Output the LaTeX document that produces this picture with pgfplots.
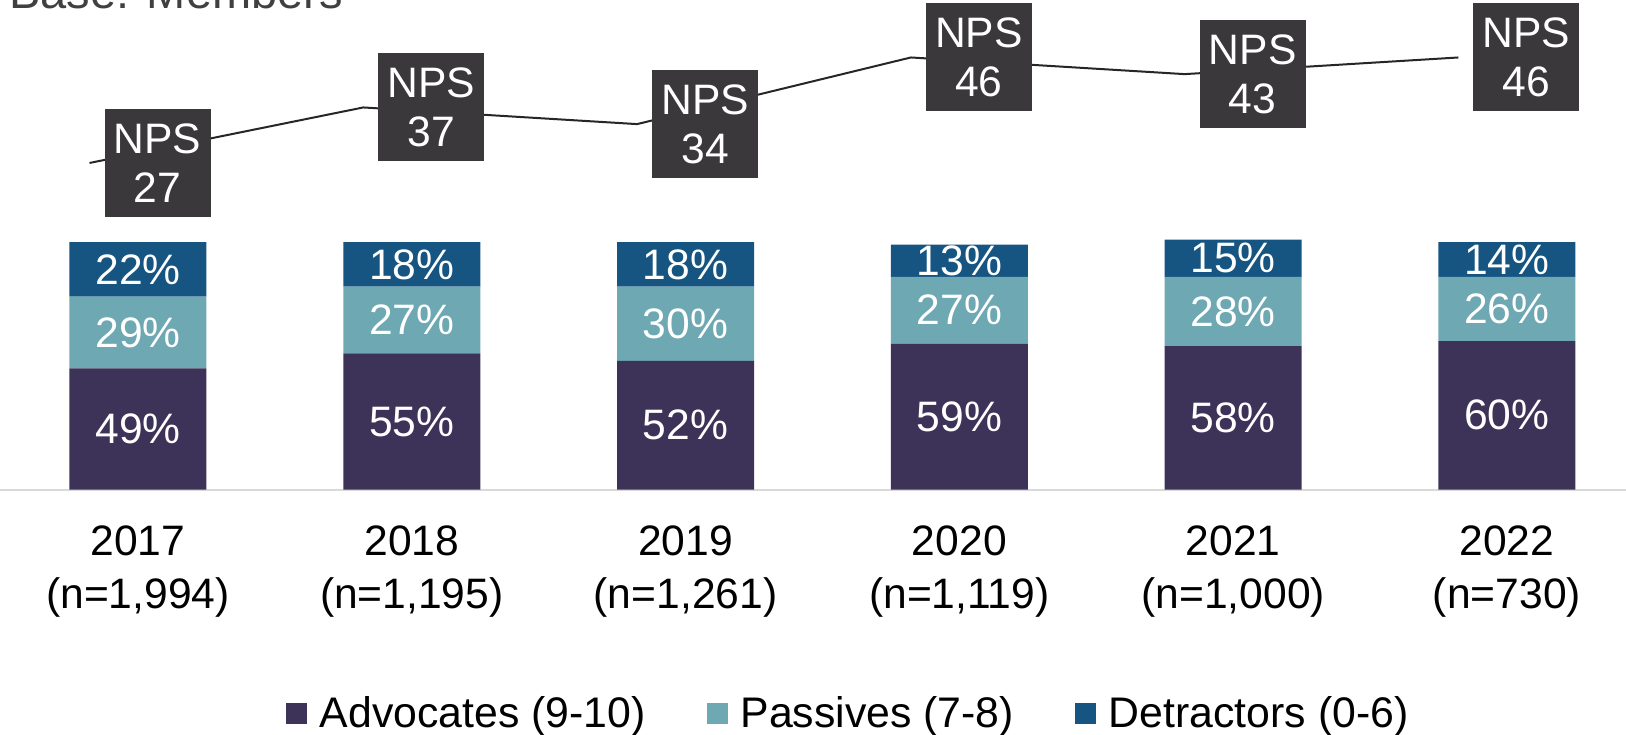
\documentclass[border=0pt]{standalone}
\usepackage{fontspec}
\setmainfont{Liberation Sans}
\usepackage{pgfplots}
\pgfplotsset{compat=1.18}
\usepackage{pgfplotstable}

\definecolor{advcol}{HTML}{3D3359}
\definecolor{pascol}{HTML}{6EA8B3}
\definecolor{detcol}{HTML}{165582}
\definecolor{npsbox}{HTML}{3A383B}
\definecolor{npsline}{HTML}{262626}
\definecolor{basegray}{HTML}{D9D9D9}
\definecolor{titlegray}{HTML}{404040}

% share of members in each group, per survey year
\pgfplotstableread{
x adv pas det
0 49 29 22
1 55 27 18
2 52 30 18
3 59 27 13
4 58 28 15
5 60 26 14
}\shares

% net promoter score, drawn slightly left of each bar
\pgfplotstableread{
x nps
-0.177 27
0.823 37
1.823 34
2.823 46
3.823 43
4.823 46
}\npsdata

\newcommand{\lblfont}{\fontsize{21.3}{26.5}\selectfont}

\pgfplotsset{
  frame/.style={at={(0pt,122.25pt)}, anchor=south west,
    scale only axis, width=813pt, height=244.75pt,
    xmin=-0.504, xmax=5.435},
  seglabel/.style={draw=none, mark=none, point meta=explicit,
    nodes near coords={\pgfmathprintnumber{\pgfplotspointmeta}\%},
    every node near coord/.style={text=white, font=\lblfont,
      anchor=center, inner sep=0pt}},
}

\begin{document}
\begin{tikzpicture}
% stacked shares
\begin{axis}[
  frame, ymin=0, ymax=197.9,
  ybar stacked, bar width=68.5pt,
  axis x line*=bottom, axis y line=none,
  x axis line style={draw=basegray, line width=1pt},
  xtick={0,1,2,3,4,5},
  xticklabels={{2017\\(n=1,994)},{2018\\(n=1,195)},{2019\\(n=1,261)},
               {2020\\(n=1,119)},{2021\\(n=1,000)},{2022\\(n=730)}},
  xticklabel style={align=center, font=\lblfont, inner sep=0pt,
                    anchor=north, yshift=-17.75pt},
  major tick length=0pt, ytick=\empty,
  legend style={at={(0.525,-0.4566)}, anchor=center, draw=none, fill=none,
      font=\fontsize{21.4}{26}\selectfont, legend columns=3,
      nodes={inner xsep=6.2pt},
      /tikz/every even column/.append style={column sep=24.5pt}},
  legend image code/.code={\fill[#1] (0pt,-5.25pt) rectangle (10.5pt,5.25pt);},
]
\addplot[fill=advcol, draw=none] table[x=x, y=adv] {\shares};
\addlegendentry{Advocates (9-10)}
\addplot[fill=pascol, draw=none] table[x=x, y=pas] {\shares};
\addlegendentry{Passives (7-8)}
\addplot[fill=detcol, draw=none] table[x=x, y=det] {\shares};
\addlegendentry{Detractors (0-6)}
\end{axis}

% value labels in the middle of each segment
\begin{axis}[frame, ymin=0, ymax=197.9, hide axis,
  /pgf/number format/assume math mode=true]
\addplot[seglabel] table[x=x, y expr=\thisrow{adv}/2, meta=adv] {\shares};
\addplot[seglabel] table[x=x, y expr=\thisrow{adv}+\thisrow{pas}/2, meta=pas] {\shares};
\addplot[seglabel] table[x=x, y expr=\thisrow{adv}+\thisrow{pas}+\thisrow{det}/2, meta=det] {\shares};
\end{axis}

% NPS trend on its own scale
\begin{axis}[frame, ymin=-31.8, ymax=56.35, hide axis,
  /pgf/number format/assume math mode=true]
\addplot[npsline, line width=1pt, mark=none, point meta=explicit,
  nodes near coords={NPS\\\pgfmathprintnumber{\pgfplotspointmeta}},
  every node near coord/.style={anchor=west, xshift=7pt, fill=npsbox,
      text=white, align=center, minimum width=53pt, minimum height=54pt,
      inner sep=0pt, font=\fontsize{21.3}{24.5}\selectfont}]
  table[x=x, y=nps, meta=nps] {\npsdata};
\end{axis}

% base line, running off the top edge of the page
\node[overlay, anchor=base west, inner sep=0pt, text=titlegray,
      font=\fontsize{23.5}{28}\selectfont] at (4.5pt,362.5pt) {Base: Members};

\pgfresetboundingbox
\useasboundingbox (0pt,0pt) rectangle (813pt,367pt);
\end{tikzpicture}
\end{document}
